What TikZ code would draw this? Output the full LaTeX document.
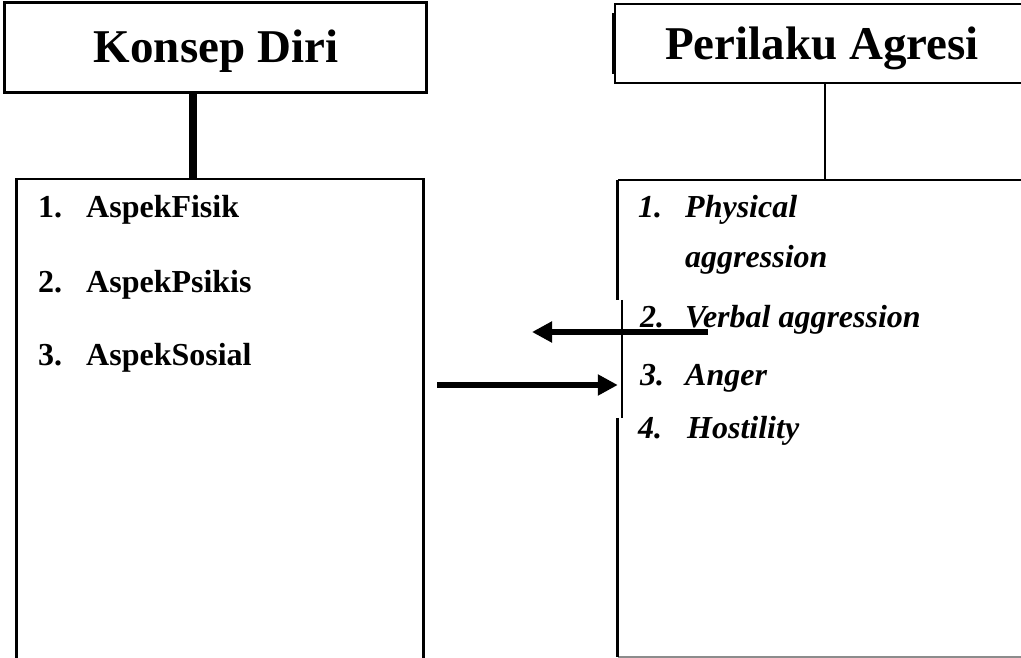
\documentclass[tikz,border=0pt]{standalone}
\usepackage{fontspec}
\setmainfont{Liberation Serif}
\usetikzlibrary{arrows.meta}
\begin{document}
\begin{tikzpicture}[x=1pt,y=-1pt,
  titlebox/.style={draw, rectangle, inner sep=0pt, fill=white},
  listbox/.style={draw, rectangle, inner sep=0pt, line width=1.2pt},
  plainbox/.style={rectangle, inner sep=0pt},
  titletext/.style={font=\fontsize{47}{50}\selectfont\bfseries, inner sep=0pt, anchor=base},
  item/.style={font=\fontsize{32}{36}\selectfont\bfseries, inner sep=0pt, anchor=base west},
  itemit/.style={font=\fontsize{32}{36}\selectfont\bfseries\itshape, inner sep=0pt, anchor=base west},
  bigarrow/.style={line width=6pt, -{Triangle[length=20pt,width=20pt]}}
]
\useasboundingbox (0,0) rectangle (1021,658);
\clip (0,0) rectangle (1021,658);
\fill[white] (0,0) rectangle (1021,658);

% list boxes
\node[listbox, minimum width=406pt, minimum height=521pt] (lb) at (220,439.5) {};
\node[plainbox, minimum width=442pt, minimum height=477pt] (rb) at (839,418.5) {};
\draw[line width=3pt] (lb.north west) -- (lb.south west);
\draw[line width=2.5pt] (lb.north east) -- (lb.south east);
\draw[line width=1.5pt] (rb.north west) -- (rb.north east);
\draw[line width=1.5pt, black!45] (rb.south west) -- (rb.south east);
\draw[line width=3pt] (rb.north west) -- ([yshift=-120pt]rb.north west);
\draw[line width=1.5pt] ([xshift=4pt,yshift=-120pt]rb.north west) -- ([xshift=4pt,yshift=-238pt]rb.north west);
\draw[line width=3pt] ([yshift=-238pt]rb.north west) -- (rb.south west);

% title boxes
\node[titlebox, line width=3pt, minimum width=422pt, minimum height=90pt] (kd) at (215,48) {};
\node[titletext] (kdt) at (216,63) {Konsep Diri};
\node[titlebox, line width=2pt, minimum width=425pt, minimum height=79pt] (pa) at (827.5,43.5) {};
\draw[line width=4pt] ([yshift=-10pt]pa.north west) -- ([yshift=10pt]pa.south west);
\node[titletext] (pat) at (822,60) {Perilaku Agresi};

% connectors from title to list
\draw[line width=8pt] (kd.south -| 193,0) -- (lb.north -| 193,0);
\draw[line width=2.5pt] (pa.south -| 825,0) -- (rb.north -| 825,0);

% left list
\node[item] (l1n) at (38,218) {1.};
\node[item] (l1) at (86,218) {AspekFisik};
\node[item] (l2n) at (38,292) {2.};
\node[item] (l2) at (86,292) {AspekPsikis};
\node[item] (l3n) at (38,365) {3.};
\node[item] (l3) at (86,365) {AspekSosial};

% right list
\node[itemit] (r1n) at (638,218) {1.};
\node[itemit] (r1) at (685,218) {Physical};
\node[itemit] (r1b) at (685,267) {aggression};
\node[itemit] (r2n) at (640,327) {2.};
\node[itemit] (r2) at (685,327) {Verbal aggression};
\node[itemit] (r3n) at (640,385) {3.};
\node[itemit] (r3) at (685,385) {Anger};
\node[itemit] (r4n) at (638,438) {4.};
\node[itemit] (r4) at (687,438) {Hostility};

% arrows
\coordinate (a1s) at (708,332);
\coordinate (a1e) at (532,332);
\coordinate (a2s) at (437,385);
\draw[bigarrow] (a1s) -- (a1e);
\draw[bigarrow] (a2s) -- (rb.west |- a2s);
\end{tikzpicture}
\end{document}
